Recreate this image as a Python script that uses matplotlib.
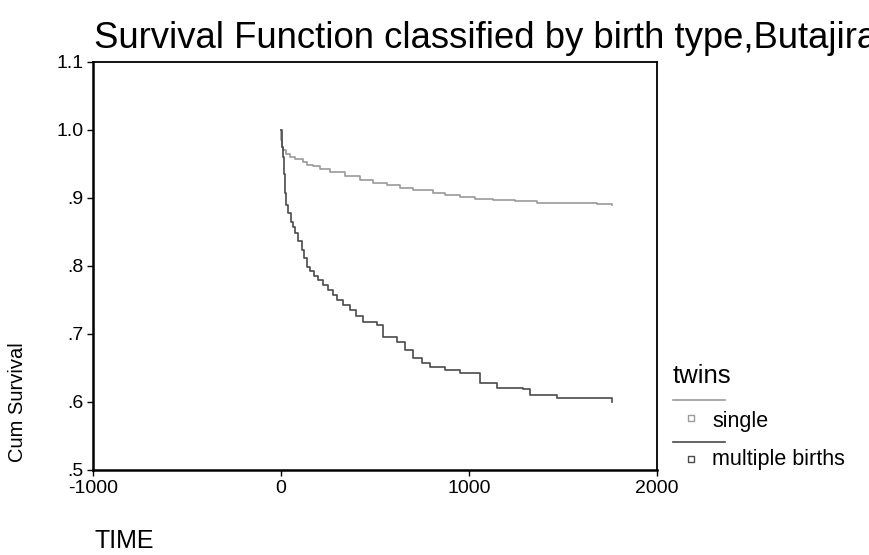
import matplotlib
matplotlib.use("Agg")
import matplotlib.pyplot as plt
from matplotlib.lines import Line2D

plt.rcParams['font.family'] = ['Liberation Sans', 'DejaVu Sans']

# Data (Kaplan-Meier step curves)
single_time = [0, 2, 5, 10, 27, 48, 74, 117, 138, 170, 207, 261, 340, 420, 489, 564, 633, 702, 809,
               872, 952, 1032, 1128, 1245, 1362, 1681, 1760]
single_surv = [1.0, 0.985, 0.975, 0.970, 0.965, 0.960, 0.957, 0.953, 0.949, 0.947, 0.943, 0.938, 0.932,
               0.926, 0.922, 0.919, 0.915, 0.912, 0.907, 0.904, 0.901, 0.899, 0.897, 0.895, 0.893,
               0.891, 0.889]

multi_time = [0, 3, 10, 16, 21, 29, 37, 53, 64, 74, 90, 112, 122, 138, 154, 176, 197, 223, 250, 277,
              298, 330, 367, 400, 436, 511, 543, 617, 660, 702, 750, 793, 870, 952, 1059, 1149, 1287,
              1324, 1468, 1681, 1760]
multi_surv = [1.0, 0.975, 0.960, 0.935, 0.907, 0.890, 0.878, 0.865, 0.857, 0.849, 0.837, 0.824, 0.812,
              0.799, 0.792, 0.785, 0.779, 0.772, 0.765, 0.757, 0.750, 0.743, 0.735, 0.727, 0.718,
              0.713, 0.696, 0.688, 0.676, 0.665, 0.658, 0.651, 0.647, 0.643, 0.628, 0.621, 0.619,
              0.610, 0.606, 0.606, 0.600]

x_ticks = [-1000, 0, 1000, 2000]
x_ticklabels = ['-1000', '0', '1000', '2000']
y_ticks = [0.5, 0.6, 0.7, 0.8, 0.9, 1.0, 1.1]
y_ticklabels = ['.5', '.6', '.7', '.8', '.9', '1.0', '1.1']

series_labels = ['single', 'multiple births']
series_colors = ['#9a9a9a', '#4a4a4a']

fig = plt.figure(figsize=(8.7, 5.55), dpi=100)
ax = fig.add_axes([0.1069, 0.1532, 0.6483, 0.7351])

ax.step(single_time, single_surv, where='post', color=series_colors[0], lw=1.2)
ax.step(multi_time, multi_surv, where='post', color=series_colors[1], lw=1.2)

ax.set_xlim(-1000, 2000)
ax.set_ylim(0.5, 1.1)
ax.set_xticks(x_ticks)
ax.set_xticklabels(x_ticklabels)
ax.set_yticks(y_ticks)
ax.set_yticklabels(y_ticklabels)
ax.tick_params(direction='out', length=4, width=1, labelsize=14, colors='black', pad=3)
for side in ['left', 'bottom']:
    ax.spines[side].set_linewidth(1.8)
for side in ['top', 'right']:
    ax.spines[side].set_linewidth(1.3)

# Title (clipped at the right edge like the original)
fig.text(94 / 870, 1 - 48 / 555, 'Survival Function classified by birth type,Butajira',
         fontsize=26.3, ha='left', va='baseline')

# Axis labels
fig.text(18 / 870, 1 - 402 / 555, 'Cum Survival', rotation=90, fontsize=14.5,
         ha='center', va='center')
fig.text(95 / 870, 1 - 548 / 555, 'TIME', fontsize=18, ha='left', va='baseline')

# Legend (SPSS style)
fig.text(673 / 870, 1 - 383 / 555, 'twins', fontsize=18.5, ha='left', va='baseline')
leg_line_y = [400, 442]
leg_mark_y = [418, 459]
leg_text_y = [421, 460]
for i in range(2):
    yl = 1 - leg_line_y[i] / 555
    fig.add_artist(Line2D([673 / 870, 725 / 870], [yl, yl], color=series_colors[i], lw=1.2,
                          transform=fig.transFigure))
    ym = 1 - leg_mark_y[i] / 555
    fig.add_artist(Line2D([691 / 870], [ym], marker='s', markersize=5, markerfacecolor='white',
                          markeredgecolor=series_colors[i], markeredgewidth=1.0, linestyle='None',
                          transform=fig.transFigure))
    fig.text(712 / 870, 1 - leg_text_y[i] / 555, series_labels[i], fontsize=15.5,
             ha='left', va='center')

fig.savefig('out.png', dpi=100)
